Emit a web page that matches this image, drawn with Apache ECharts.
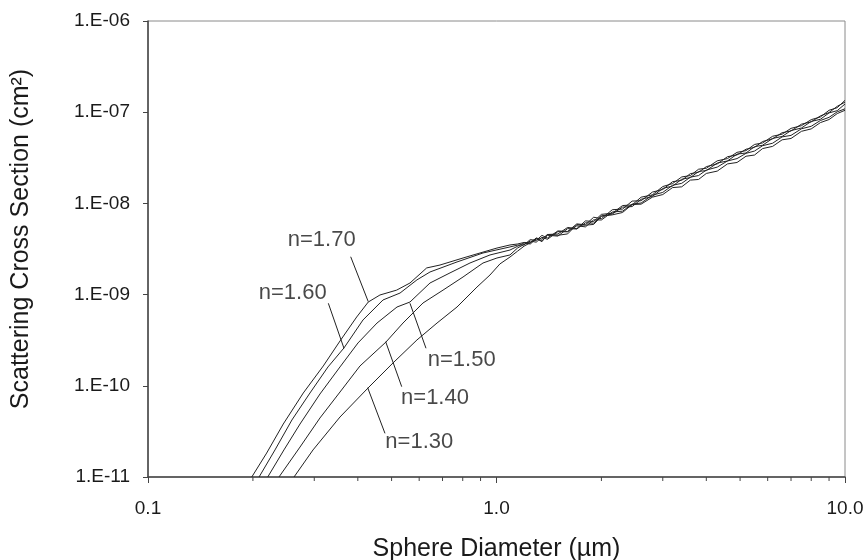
<!DOCTYPE html>
<html>
<head>
<meta charset="utf-8">
<script src="https://cdn.jsdelivr.net/npm/echarts@6/dist/echarts.min.js"></script>
<style>
  html, body { margin: 0; padding: 0; background: #fff; }
  #chart { width: 865px; height: 560px; }
</style>
</head>
<body>
<div id="chart"></div>
<script>
// refractive index labels
const curveNames = ['n=1.30', 'n=1.40', 'n=1.50', 'n=1.60', 'n=1.70'];

// steep (small sphere) part of each curve, diameter in um, cross section in cm^2
const diam130 = [0.2624, 0.2975, 0.3556, 0.4279, 0.5047, 0.5912, 0.6751, 0.7703, 0.879, 0.9578, 1.023, 1.093];
const sigma130 = [1e-11, 1.98e-11, 4.55e-11, 9.46e-11, 1.78e-10, 3.18e-10, 4.88e-10, 7.31e-10, 1.21e-9, 1.64e-9, 2.17e-9, 2.58e-9];

const diam140 = [0.2376, 0.273, 0.3115, 0.3556, 0.4058, 0.4818, 0.5392, 0.6153, 0.7024, 0.8016, 0.9147, 1.003, 1.093];
const sigma140 = [1e-11, 2.13e-11, 4.44e-11, 8.55e-11, 1.65e-10, 3.02e-10, 4.88e-10, 8.09e-10, 1.12e-9, 1.56e-9, 2.22e-9, 2.52e-9, 2.72e-9];

const diam150 = [0.2206, 0.2455, 0.273, 0.3115, 0.3556, 0.4005, 0.4541, 0.5182, 0.5646, 0.6444, 0.7356, 0.8392, 0.9578, 1.093];
const sigma150 = [1e-11, 1.98e-11, 3.81e-11, 8.13e-11, 1.61e-10, 2.95e-10, 4.88e-10, 7.31e-10, 8.29e-10, 1.34e-9, 1.73e-9, 2.22e-9, 2.72e-9, 3.08e-9];

const diam160 = [0.2083, 0.2314, 0.2588, 0.2916, 0.3285, 0.365, 0.4139, 0.4724, 0.5287, 0.5912, 0.6444, 0.7703, 0.9147, 1.093];
const sigma160 = [1e-11, 1.98e-11, 4.22e-11, 8.34e-11, 1.61e-10, 2.60e-10, 5.27e-10, 8.73e-10, 1.04e-9, 1.45e-9, 1.77e-9, 2.28e-9, 2.86e-9, 3.33e-9];

const diam170 = [0.1985, 0.219, 0.2444, 0.279, 0.3184, 0.3556, 0.397, 0.4286, 0.463, 0.517, 0.5646, 0.6304, 0.6885, 0.8016, 0.8969, 1.003, 1.093];
const sigma170 = [1e-11, 1.83e-11, 3.81e-11, 8.34e-11, 1.65e-10, 3.10e-10, 5.68e-10, 8.29e-10, 9.9e-10, 1.12e-9, 1.34e-9, 1.96e-9, 2.11e-9, 2.52e-9, 2.86e-9, 3.24e-9, 3.50e-9];

// rippled (large sphere) part, shared diameters
const tailDiam = [1.15, 1.2, 1.25, 1.3, 1.35, 1.4, 1.5, 1.6, 1.7, 1.8, 1.9, 2.0, 2.15, 2.3, 2.45, 2.6, 2.8, 3.0, 3.2, 3.4,
                  3.6, 3.8, 4.0, 4.3, 4.6, 4.9, 5.2, 5.5, 5.8, 6.2, 6.6, 7.0, 7.5, 8.0, 8.5, 9.0, 9.5, 10];
const tail130 = [3.00e-9, 3.40e-9, 3.70e-9, 4.16e-9, 3.80e-9, 4.56e-9, 4.47e-9, 4.63e-9, 5.85e-9, 5.77e-9, 5.88e-9, 7.22e-9, 7.49e-9, 7.95e-9,
                 9.72e-9, 9.81e-9, 1.17e-8, 1.25e-8, 1.49e-8, 1.52e-8, 1.80e-8, 1.83e-8, 2.13e-8, 2.26e-8, 2.71e-8, 2.81e-8, 3.29e-8, 3.39e-8,
                 3.99e-8, 4.22e-8, 4.98e-8, 5.15e-8, 6.17e-8, 6.56e-8, 7.69e-8, 8.31e-8, 9.66e-8, 1.05e-7];
const tail140 = [3.25e-9, 3.55e-9, 3.86e-9, 3.76e-9, 4.25e-9, 4.04e-9, 4.90e-9, 4.88e-9, 5.68e-9, 5.53e-9, 6.60e-9, 6.58e-9, 8.05e-9, 8.22e-9,
                 9.82e-9, 1.01e-8, 1.23e-8, 1.32e-8, 1.58e-8, 1.66e-8, 1.94e-8, 2.02e-8, 2.32e-8, 2.50e-8, 2.92e-8, 3.10e-8, 3.54e-8, 3.75e-8,
                 4.29e-8, 4.57e-8, 5.36e-8, 5.57e-8, 6.58e-8, 7.01e-8, 8.11e-8, 8.78e-8, 1.01e-7, 1.09e-7];
const tail150 = [3.39e-9, 3.69e-9, 3.59e-9, 4.08e-9, 3.88e-9, 4.47e-9, 4.38e-9, 5.29e-9, 5.24e-9, 6.13e-9, 6.07e-9, 7.29e-9, 7.65e-9, 9.11e-9,
                 9.23e-9, 1.11e-8, 1.19e-8, 1.46e-8, 1.55e-8, 1.84e-8, 1.92e-8, 2.24e-8, 2.29e-8, 2.77e-8, 2.92e-8, 3.47e-8, 3.57e-8, 4.19e-8,
                 4.34e-8, 5.16e-8, 5.42e-8, 6.29e-8, 6.71e-8, 7.92e-8, 8.36e-8, 9.82e-8, 1.04e-7, 1.23e-7];
const tail160 = [3.49e-9, 3.51e-9, 4.01e-9, 3.92e-9, 4.46e-9, 4.17e-9, 4.99e-9, 4.93e-9, 5.96e-9, 5.83e-9, 7.05e-9, 6.80e-9, 8.53e-9, 8.66e-9,
                 1.06e-8, 1.07e-8, 1.33e-8, 1.42e-8, 1.73e-8, 1.79e-8, 2.12e-8, 2.19e-8, 2.53e-8, 2.71e-8, 3.25e-8, 3.40e-8, 3.93e-8, 4.11e-8,
                 4.77e-8, 5.11e-8, 5.96e-8, 6.23e-8, 7.39e-8, 7.84e-8, 9.11e-8, 9.91e-8, 1.16e-7, 1.29e-7];
const tail170 = [3.59e-9, 3.73e-9, 3.70e-9, 4.16e-9, 4.05e-9, 4.56e-9, 4.62e-9, 5.45e-9, 5.29e-9, 6.43e-9, 6.33e-9, 7.58e-9, 7.81e-9, 9.47e-9,
                 9.62e-9, 1.17e-8, 1.24e-8, 1.53e-8, 1.65e-8, 1.95e-8, 2.02e-8, 2.37e-8, 2.43e-8, 2.93e-8, 3.10e-8, 3.63e-8, 3.79e-8, 4.43e-8,
                 4.60e-8, 5.45e-8, 5.74e-8, 6.65e-8, 7.12e-8, 8.29e-8, 8.86e-8, 1.05e-7, 1.12e-7, 1.35e-7];

// annotation leader lines and label anchors, same order as curveNames
const leaderFrom = [[0.4269, 9.53e-11], [0.4809, 3.04e-10], [0.5646, 8.03e-10], [0.3292, 8.03e-10], [0.3816, 2.60e-9]];
const leaderTo = [[0.4786, 3.01e-11], [0.5346, 9.78e-11], [0.6276, 2.58e-10], [0.3650, 2.58e-10], [0.4286, 8.36e-10]];
const labelAt = [[0.6005, 2.44e-11], [0.6661, 7.29e-11], [0.7946, 1.92e-10], [0.2601, 1.03e-9], [0.3150, 3.97e-9]];

// log axis minor ticks
const minorTicks = [0.2, 0.3, 0.4, 0.5, 0.6, 0.7, 0.8, 0.9, 2, 3, 4, 5, 6, 7, 8, 9];

const FONT = 'Liberation Sans, Arial, sans-serif';
const INK = '#1a1a1a';

function pairs(xs, ys) {
    return xs.map((x, i) => [x, ys[i]]);
}

const curves = [
    pairs(diam130, sigma130).concat(pairs(tailDiam, tail130)),
    pairs(diam140, sigma140).concat(pairs(tailDiam, tail140)),
    pairs(diam150, sigma150).concat(pairs(tailDiam, tail150)),
    pairs(diam160, sigma160).concat(pairs(tailDiam, tail160)),
    pairs(diam170, sigma170).concat(pairs(tailDiam, tail170))
];

const chart = echarts.init(document.getElementById('chart'), null, { renderer: 'canvas' });

const series = curves.map((data, i) => ({
    name: curveNames[i],
    type: 'line',
    data: data,
    showSymbol: false,
    symbol: 'none',
    lineStyle: { color: '#222', width: 1 },
    clip: true,
    silent: true,
    markLine: {
        silent: true,
        symbol: 'none',
        label: { show: false },
        lineStyle: { color: '#222', width: 1, type: 'solid' },
        data: [[{ coord: leaderFrom[i] }, { coord: leaderTo[i] }]]
    }
}));

series.push({
    type: 'scatter',
    symbolSize: 0,
    silent: true,
    data: labelAt.map((p, i) => ({ value: p, name: curveNames[i] })),
    label: {
        show: true,
        position: 'inside',
        formatter: p => p.name,
        fontFamily: FONT,
        fontSize: 22,
        color: INK
    }
});

series.push({
    type: 'custom',
    silent: true,
    clip: false,
    data: minorTicks.map(v => [v, 1e-11]),
    renderItem: function(params, api) {
        const p = api.coord([api.value(0), api.value(1)]);
        return {
            type: 'line',
            shape: { x1: p[0], y1: p[1], x2: p[0], y2: p[1] + 4 },
            style: { stroke: '#444', lineWidth: 1 }
        };
    }
});

const option = {
    animation: false,
    backgroundColor: '#fff',
    grid: {
        left: 148,
        right: 20,
        top: 21,
        bottom: 83,
        outerBoundsMode: 'none',
        containLabel: false,
        show: true,
        borderColor: '#8a8a8a',
        borderWidth: 1
    },
    xAxis: {
        type: 'log',
        logBase: 10,
        min: 0.1,
        max: 10,
        name: 'Sphere Diameter (µm)',
        nameLocation: 'middle',
        nameGap: 60,
        nameTextStyle: { fontFamily: FONT, fontSize: 25, color: INK },
        axisLine: { lineStyle: { color: '#444', width: 1.5 } },
        axisTick: { inside: false, length: 6, lineStyle: { color: '#444' } },
        axisLabel: {
            margin: 22,
            fontFamily: FONT,
            fontSize: 19,
            color: INK,
            formatter: v => Number(v).toFixed(1)
        },
        splitLine: { show: false }
    },
    yAxis: {
        type: 'log',
        logBase: 10,
        min: 1e-11,
        max: 1e-6,
        name: 'Scattering Cross Section (cm²)',
        nameLocation: 'middle',
        nameGap: 114,
        nameTextStyle: { fontFamily: FONT, fontSize: 25, color: INK, padding: [0, 0, 0, 20] },
        axisLine: { lineStyle: { color: '#444', width: 1.5 } },
        axisTick: { inside: false, length: 5, lineStyle: { color: '#444' } },
        axisLabel: {
            margin: 18,
            fontFamily: FONT,
            fontSize: 19,
            color: INK,
            formatter: function(v) {
                const e = Math.round(Math.log10(v));
                return '1.E-' + String(-e).padStart(2, '0');
            }
        },
        splitLine: { show: false }
    },
    series: series
};

chart.setOption(option);
</script>
</body>
</html>
